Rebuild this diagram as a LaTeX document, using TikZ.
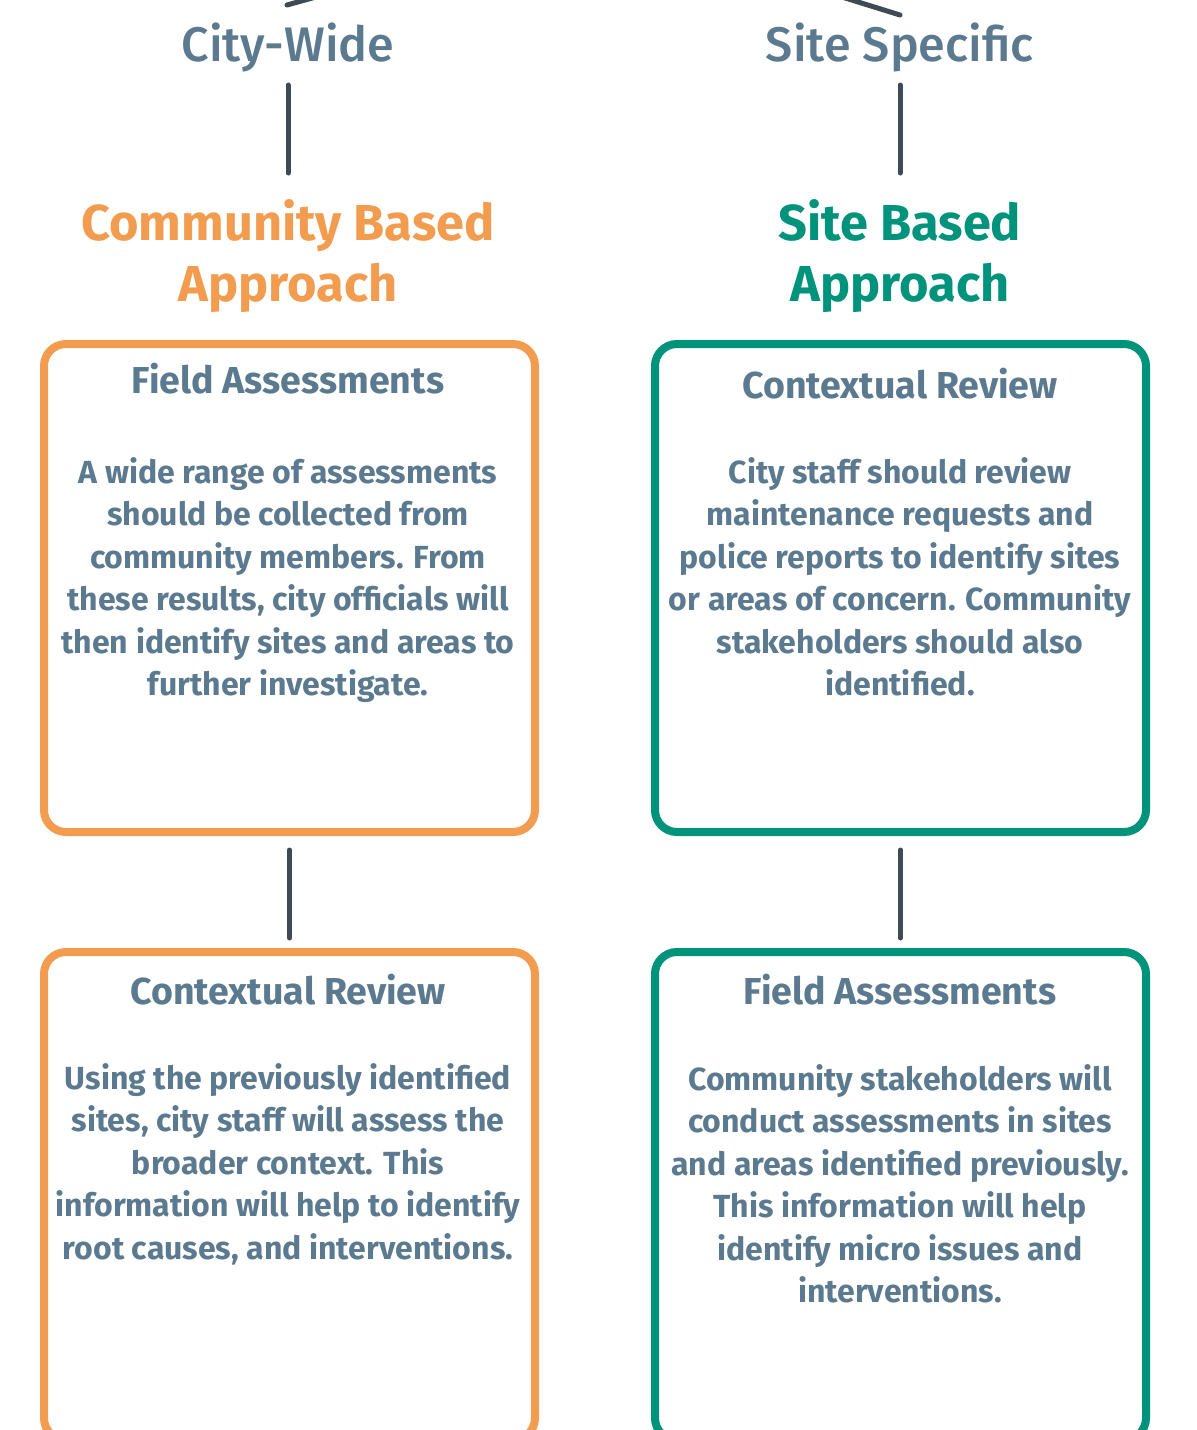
\documentclass[tikz,border=0pt]{standalone}
\usepackage{xcolor}
\usepackage{fontspec}
\setmainfont{Fira Sans}[BoldFont={* Bold}]
\newfontfamily\levelfont{Fira Sans}[UprightFont={* Medium}]
\usepackage{tikz}
\usetikzlibrary{positioning}

\definecolor{slate}{HTML}{5B7A8F}
\definecolor{cborange}{HTML}{F29C50}
\definecolor{sbteal}{HTML}{00937C}
\definecolor{linkgrey}{HTML}{3E4A54}

\begin{document}
\begin{tikzpicture}[x=1pt,y=-1pt,
    level/.style={text=slate, font=\levelfont\fontsize{48.5}{50}\selectfont},
    approach/.style={font=\bfseries\fontsize{50.5}{61}\selectfont, align=center},
    card/.style={draw, line width=8pt, rounded corners=22pt,
        minimum width=491pt, minimum height=488pt, inner sep=0pt},
    cardhead/.style={text=slate, font=\bfseries\fontsize{37.5}{38}\selectfont},
    cardtext/.style={text=slate, font=\bfseries\fontsize{32}{42.5}\selectfont, align=center},
    link/.style={draw=linkgrey, line width=5pt, line cap=round}
]
    \useasboundingbox (0,0) rectangle (1197,1430);
    \clip (0,0) rectangle (1197,1430);

    % levels
    \coordinate (root) at (594,-80);
    \coordinate (cwtop) at (287,5);
    \coordinate (sstop) at (900,15);
    \node[level] (cw) at (288,47) {City-Wide};
    \node[level] (ss) at (900,47) {Site Specific};
    \draw[link] (cwtop) -- (root) -- (sstop);

    % approaches
    \node[approach, text=cborange] (cba) at (288,256) {Community Based\\Approach};
    \node[approach, text=sbteal] (sba) at (900,256) {Site Based\\Approach};
    \draw[link] ([yshift=-38pt]cw.center) -- ([yshift=83pt]cba.center);
    \draw[link] ([yshift=-38pt]ss.center) -- ([yshift=83pt]sba.center);

    % community based steps
    \node[card, draw=cborange] (cfa) at (289.5,588) {};
    \node[card, draw=cborange] (ccr) at (289.5,1196) {};
    \node[cardhead] (cfah) at (288,379) {Field Assessments};
    \node[cardtext] (cfat) at (288,580) {A wide range of assessments\\should be collected from\\community members. From\\these results, city officials will\\then identify sites and areas to\\further investigate.};
    \node[cardhead] (ccrh) at (288,990) {Contextual Review};
    \node[cardtext] (ccrt) at (288,1164) {Using the previously identified\\sites, city staff will assess the\\broader context. This\\information will help to identify\\root causes, and interventions.};
    \draw[link, shorten <=14pt, shorten >=10pt] (cfa.south) -- (ccr.north);

    % site based steps
    \node[card, draw=sbteal] (scr) at (900.5,588) {};
    \node[card, draw=sbteal] (sfa) at (900.5,1196) {};
    \node[cardhead] (scrh) at (900,384) {Contextual Review};
    \node[cardtext] (scrt) at (900,577) {City staff should review\\maintenance requests and\\police reports to identify sites\\or areas of concern. Community\\stakeholders should also\\identified.};
    \node[cardhead] (sfah) at (900,990) {Field Assessments};
    \node[cardtext] (sfat) at (900,1184) {Community stakeholders will\\conduct assessments in sites\\and areas identified previously.\\This information will help\\identify micro issues and\\interventions.};
    \draw[link, shorten <=14pt, shorten >=10pt] (scr.south) -- (sfa.north);
\end{tikzpicture}
\end{document}
